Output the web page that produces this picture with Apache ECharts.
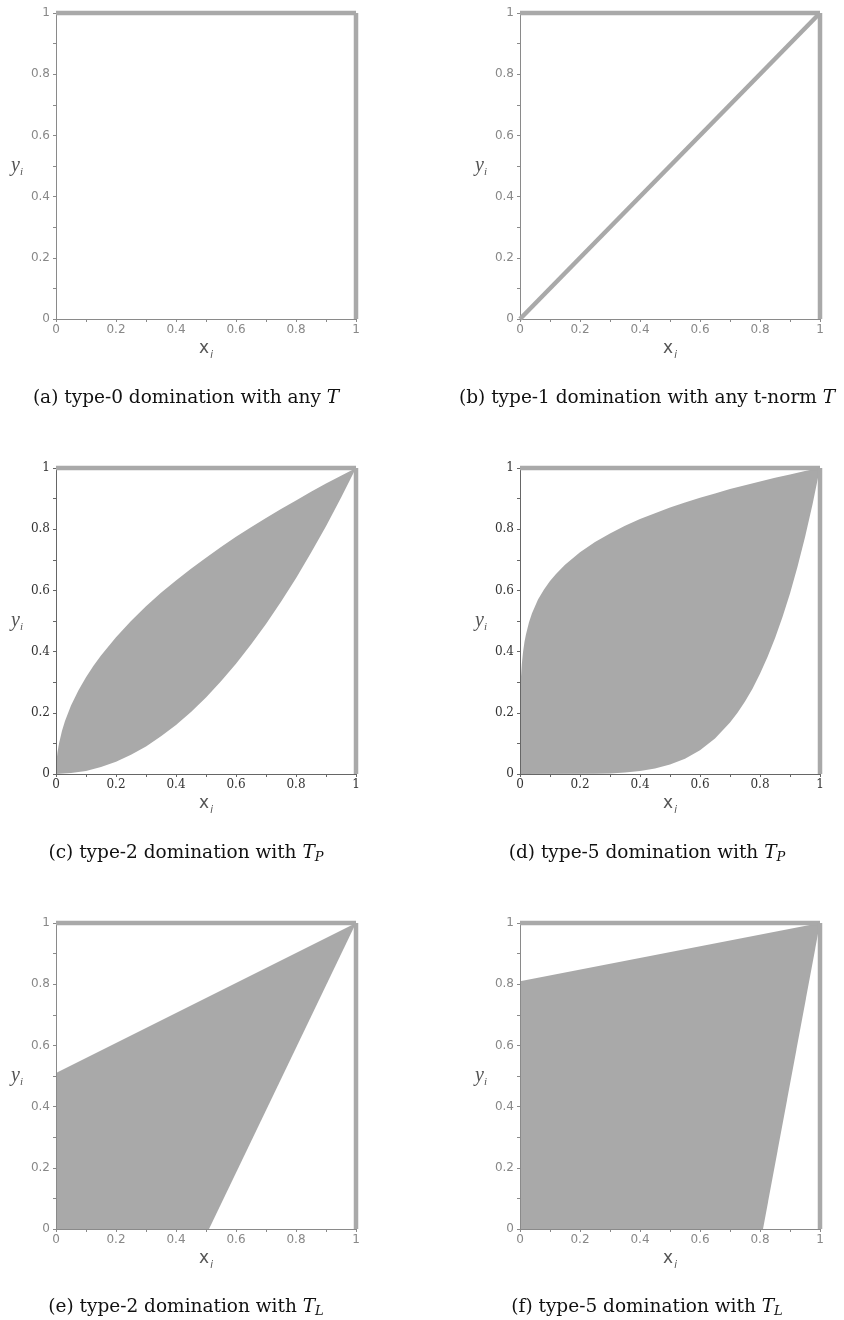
<!DOCTYPE html>
<html>
<head>
<meta charset="utf-8">
<script src="https://cdn.jsdelivr.net/npm/echarts@6/dist/echarts.min.js"></script>
<style>
html, body { margin: 0; padding: 0; background: #fff; }
#chart { width: 844px; height: 1320px; }
</style>
</head>
<body>
<div id="chart"></div>
<script>
// 各子图的数据 (x_i, y_i)
const frameTop = [[0, 1], [1, 1]];
const frameRight = [[1, 0], [1, 1]];
const diagonalB = [[0, 0], [1, 1]];

// (c) type-2, T_P
const upperC = [[0, 0], [0.002, 0.045], [0.005, 0.071], [0.01, 0.1], [0.02, 0.141], [0.03, 0.173], [0.05, 0.224], [0.075, 0.274], [0.1, 0.316], [0.125, 0.354], [0.15, 0.387], [0.2, 0.447], [0.25, 0.5], [0.3, 0.548], [0.35, 0.592], [0.4, 0.632], [0.45, 0.671], [0.5, 0.707], [0.55, 0.742], [0.6, 0.775], [0.65, 0.806], [0.7, 0.837], [0.75, 0.866], [0.8, 0.894], [0.85, 0.922], [0.9, 0.949], [0.95, 0.975], [1, 1]];
const lowerC = [[0, 0], [0.05, 0.003], [0.1, 0.01], [0.15, 0.023], [0.2, 0.04], [0.25, 0.063], [0.3, 0.09], [0.35, 0.123], [0.4, 0.16], [0.45, 0.203], [0.5, 0.25], [0.55, 0.303], [0.6, 0.36], [0.65, 0.423], [0.7, 0.49], [0.75, 0.563], [0.8, 0.64], [0.85, 0.723], [0.9, 0.81], [0.95, 0.903], [1, 1]];

// (d) type-5, T_P
const upperD = [[0, 0], [0.001, 0.251], [0.003, 0.313], [0.006, 0.359], [0.01, 0.398], [0.015, 0.432], [0.02, 0.457], [0.03, 0.496], [0.04, 0.525], [0.06, 0.57], [0.08, 0.603], [0.1, 0.631], [0.12, 0.654], [0.15, 0.684], [0.2, 0.725], [0.25, 0.758], [0.3, 0.786], [0.35, 0.811], [0.4, 0.833], [0.45, 0.852], [0.5, 0.871], [0.55, 0.887], [0.6, 0.903], [0.65, 0.917], [0.7, 0.931], [0.75, 0.944], [0.8, 0.956], [0.85, 0.968], [0.9, 0.979], [0.95, 0.99], [1, 1]];
const lowerD = [[0, 0], [0.25, 0.001], [0.3, 0.002], [0.35, 0.005], [0.4, 0.01], [0.45, 0.018], [0.5, 0.031], [0.55, 0.05], [0.6, 0.078], [0.65, 0.116], [0.7, 0.168], [0.725, 0.2], [0.75, 0.237], [0.775, 0.279], [0.8, 0.328], [0.825, 0.382], [0.85, 0.444], [0.875, 0.513], [0.9, 0.59], [0.925, 0.677], [0.95, 0.774], [0.975, 0.881], [1, 1]];

// (e) type-2, T_L
const upperE = [[0, 0.51], [1, 1]];
const lowerE = [[0, 0], [0.51, 0], [1, 1]];

// (f) type-5, T_L
const upperF = [[0, 0.81], [1, 1]];
const lowerF = [[0, 0], [0.81, 0], [1, 1]];

const captions = [
    '(a) type-0 domination with any {it|T}',
    '(b) type-1 domination with any t-norm {it|T}',
    '(c) type-2 domination with {it|T}{sub|P}',
    '(d) type-5 domination with {it|T}{sub|P}',
    '(e) type-2 domination with {it|T}{sub|L}',
    '(f) type-5 domination with {it|T}{sub|L}'
];

const GREY = '#a9a9a9';
const cols = [56, 520];
const rows = [13, 468, 923];
const capCenters = [186, 647];
const capRows = [398, 853, 1307];

const panels = [
    { fill: null, extra: null, dark: false },
    { fill: null, extra: diagonalB, dark: false },
    { fill: [upperC, lowerC], extra: null, dark: true },
    { fill: [upperD, lowerD], extra: null, dark: true },
    { fill: [upperE, lowerE], extra: null, dark: false },
    { fill: [upperF, lowerF], extra: null, dark: false }
];

const chart = echarts.init(document.getElementById('chart'));

const grids = [], xAxes = [], yAxes = [], series = [];

panels.forEach((p, i) => {
    grids.push({ left: cols[i % 2], top: rows[Math.floor(i / 2)], width: 300, height: 306 });
    const lineColor = p.dark ? '#666' : '#8a8a8a';
    const labelStyle = {
        color: p.dark ? '#333' : '#888',
        fontSize: 12,
        fontFamily: p.dark ? 'DejaVu Serif' : 'DejaVu Sans'
    };
    const common = {
        gridIndex: i,
        type: 'value',
        min: 0,
        max: 1,
        interval: 0.2,
        z: 3,
        axisLine: { show: true, onZero: false, lineStyle: { color: lineColor, width: 1 } },
        axisTick: { show: true, length: 3, lineStyle: { color: lineColor } },
        minorTick: { show: true, splitNumber: 2, length: 3, lineStyle: { color: lineColor } },
        splitLine: { show: false }
    };
    xAxes.push(Object.assign({}, common, {
        axisLabel: Object.assign({ margin: 5 }, labelStyle),
        name: '{x|x}{s|i}',
        nameLocation: 'middle',
        nameGap: 19,
        nameTextStyle: {
            rich: {
                x: { fontFamily: 'DejaVu Sans', fontSize: 17, color: '#555' },
                s: { fontFamily: 'DejaVu Sans', fontStyle: 'italic', fontSize: 10, color: '#555', padding: [12, 0, 0, 1] }
            }
        }
    }));
    yAxes.push(Object.assign({}, common, {
        axisLabel: Object.assign({ margin: 6 }, labelStyle),
        name: '{y|y}{s|i}',
        nameLocation: 'middle',
        nameRotate: 0,
        nameGap: 33,
        nameTextStyle: {
            rich: {
                y: { fontFamily: 'Liberation Serif', fontStyle: 'italic', fontSize: 20, color: '#555' },
                s: { fontFamily: 'Liberation Serif', fontStyle: 'italic', fontSize: 11, color: '#555', padding: [12, 0, 0, 0] }
            }
        }
    }));

    if (p.fill) {
        const poly = p.fill[0].concat(p.fill[1].slice().reverse());
        series.push({
            type: 'custom',
            xAxisIndex: i,
            yAxisIndex: i,
            silent: true,
            z: 1,
            data: poly,
            renderItem: function (params, api) {
                if (params.dataIndex !== 0) return;
                const pts = poly.map(pt => api.coord(pt));
                return { type: 'polygon', shape: { points: pts }, style: { fill: GREY } };
            }
        });
    }
    const lines = [frameTop, frameRight];
    if (p.extra) lines.push(p.extra);
    lines.forEach(d => {
        series.push({
            type: 'line',
            xAxisIndex: i,
            yAxisIndex: i,
            data: d,
            symbol: 'none',
            clip: false,
            silent: true,
            z: 5,
            lineStyle: { color: GREY, width: 4.5 }
        });
    });
});

const richCap = {
    it: { fontFamily: 'DejaVu Serif', fontStyle: 'italic', fontSize: 18.5, color: '#111' },
    sub: { fontFamily: 'DejaVu Serif', fontStyle: 'italic', fontSize: 13, color: '#111', padding: [10, 0, 0, 0] }
};

chart.setOption({
    animation: false,
    backgroundColor: '#fff',
    grid: grids,
    xAxis: xAxes,
    yAxis: yAxes,
    series: series,
    graphic: captions.map((t, i) => ({
        type: 'text',
        x: capCenters[i % 2],
        y: capRows[Math.floor(i / 2)],
        style: {
            text: t,
            fontFamily: 'DejaVu Serif',
            fontSize: 18.5,
            fill: '#111',
            align: 'center',
            verticalAlign: 'middle',
            textAlign: 'center',
            textVerticalAlign: 'middle',
            rich: richCap
        }
    }))
});
</script>
</body>
</html>
